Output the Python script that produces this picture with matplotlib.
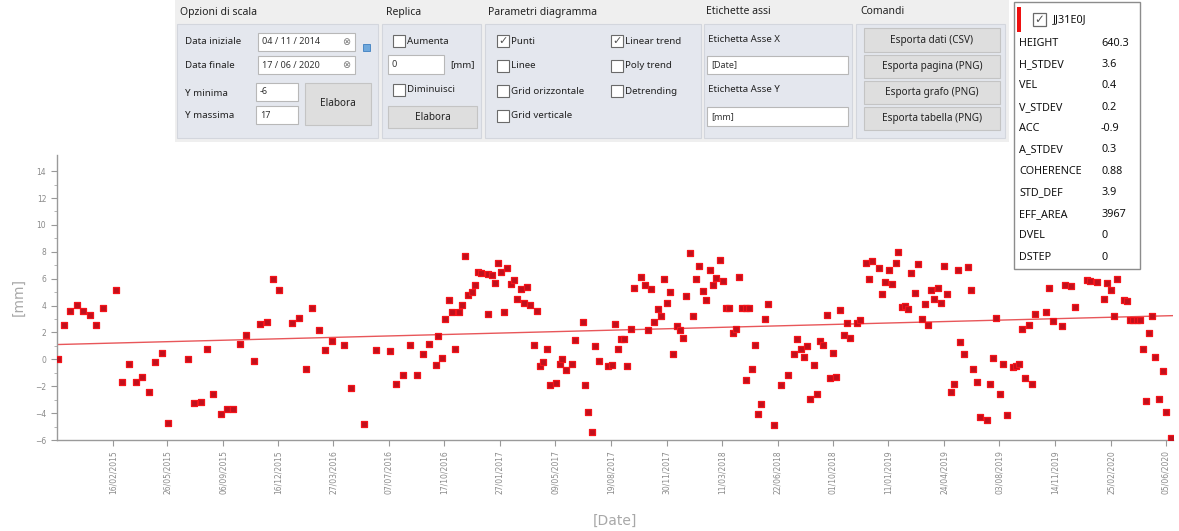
import matplotlib
matplotlib.use('Agg')
import matplotlib.pyplot as plt
import matplotlib.patches as patches
import numpy as np
import pandas as pd

# --- data ---
start_date = '2014-11-04'
end_date = '2020-06-17'

# acquisition day offset from start_date, displacement in mm
days = [3, 13, 24, 37, 49, 61, 73, 85, 109, 121, 133, 145, 157, 169, 181, 193, 205,
        241, 252, 265, 277, 288, 302, 314, 325, 337, 349, 362, 374, 386, 397, 409,
        433, 446, 458, 469, 482, 494, 506, 529, 541, 565, 588, 613, 624, 637, 650,
        662, 673, 685, 697, 702, 709, 715, 721, 727, 732, 739, 745, 751, 757, 763,
        769, 775, 781, 793, 794, 800, 806, 811, 817, 823, 829, 835, 841, 847, 853,
        859, 865, 870, 877, 883, 889, 895, 901, 907, 919, 926, 930, 937, 948, 954,
        967, 972, 978, 985, 990, 997, 1014, 1021, 1026, 1033, 1038, 1044, 1049,
        1057, 1062, 1074, 1081, 1087, 1093, 1099, 1105, 1111, 1116, 1122, 1128,
        1134, 1140, 1146, 1152, 1158, 1164, 1170, 1176, 1182, 1188, 1195, 1201,
        1207, 1213, 1219, 1225, 1231, 1237, 1243, 1249, 1255, 1261, 1267, 1268,
        1273, 1279, 1284, 1290, 1296, 1302, 1309, 1320, 1332, 1344, 1356, 1362,
        1368, 1374, 1380, 1386, 1393, 1398, 1404, 1409, 1416, 1422, 1428, 1434,
        1440, 1447, 1453, 1459, 1471, 1477, 1488, 1494, 1500, 1512, 1518, 1524,
        1531, 1537, 1543, 1548, 1554, 1560, 1566, 1572, 1578, 1584, 1591, 1597,
        1603, 1608, 1614, 1620, 1626, 1632, 1638, 1645, 1651, 1657, 1662, 1668,
        1675, 1681, 1686, 1692, 1698, 1710, 1716, 1722, 1728, 1735, 1741, 1747,
        1758, 1764, 1770, 1776, 1781, 1789, 1794, 1800, 1819, 1825, 1833, 1848,
        1854, 1866, 1873, 1895, 1901, 1914, 1926, 1932, 1938, 1944, 1950, 1963,
        1969, 1974, 1980, 1986, 1992, 1997, 2003, 2009, 2015, 2020, 2028, 2034,
        2040, 2049]
disp_mm = [0.0, 2.58, 3.59, 4.01, 3.59, 3.27, 2.58, 3.82, 5.13, -1.71, -0.32, -1.71,
           -1.31, -2.43, -0.22, 0.47, -4.73, 0.0, -3.25, -3.15, 0.79, -2.6, -4.04,
           -3.72, -3.72, 1.16, 1.78, -0.12, 2.6, 2.78, 6.0, 5.13, 2.7, 3.1, -0.72,
           3.82, 2.2, 0.67, 1.36, 1.09, -2.11, -4.78, 0.67, 0.59, -1.81, -1.19, 1.04,
           -1.19, 0.37, 1.16, -0.45, 1.71, 0.07, 2.97, 4.39, 3.52, 0.79, 3.52, 4.01,
           7.68, 4.81, 5.0, 5.5, 6.49, 6.44, 3.4, 6.37, 6.3, 5.68, 7.19, 6.49, 3.52,
           6.82, 5.63, 5.92, 4.51, 5.2, 4.19, 5.38, 4.01, 1.04, 3.59, -0.52, -0.2,
           0.79, -1.93, -1.73, -0.32, 0.02, -0.82, -0.32, 1.46, 2.8, -1.93, -3.92,
           -5.4, 0.97, -0.12, -0.52, -0.45, 2.6, 0.79, 1.49, 1.54, -0.52,
           2.28, 5.3, 6.12, 5.55, 2.2, 5.25, 2.78, 3.72, 3.2, 6.0, 4.21, 5.0,
           0.37, 2.45, 2.16, 1.59, 4.68, 7.91, 3.2, 6.0, 6.91, 5.08, 4.39, 6.67,
           5.5, 6.07, 7.41, 5.8, 3.82, 3.82, 1.98, 2.28, 6.12, 3.82, 3.82, -1.51,
           3.82, -0.69, 1.09, -4.09, -3.3, 2.97, 4.09, -4.91, -1.93, -1.14, 0.37, 1.49,
           0.79, 0.17, 0.97, -2.92, -0.4, -2.55, 1.34, 1.09, 3.27, -1.39, 0.5, -1.31,
           3.69, 1.83, 2.7, 1.59, 2.7, 2.9, 7.19, 6.0, 7.29, 6.82, 4.83, 5.75,
           6.62, 5.63, 7.16, 7.98, 3.89, 3.94, 3.72, 6.42, 4.93, 7.11, 2.97, 4.14,
           2.53, 5.18, 4.51, 5.3, 4.21, 6.91, 4.83, -2.43, -1.81, 6.67, 1.29, 0.37,
           6.86, 5.18, -0.69, -1.69, -4.29, -4.54, -1.81, 0.1, 3.07, -2.6, -0.32, -4.11,
           -0.57, -0.52, -0.37, 2.28, -1.36, 2.53, -1.86, 3.4, 3.52, 5.3, 2.83, 2.45,
           5.5, 5.43, 3.89, 5.92, 5.82, 5.75, 4.51, 5.68, 5.13, 3.2, 6.0, 4.39,
           4.34, 2.9, 2.95, 2.95, 2.9, 0.79, -3.12, 1.96, 3.2, 0.17, -2.92, -0.89,
           -3.92, -5.82]

# linear trend as shown: value at start_date and at end_date
trend_mm = [1.1, 3.25]

tick_dates = ['2015-02-16', '2015-05-26', '2015-09-06', '2015-12-16', '2016-03-27',
              '2016-07-07', '2016-10-17', '2017-01-27', '2017-05-09', '2017-08-19',
              '2017-11-30', '2018-03-11', '2018-06-22', '2018-10-01', '2019-01-11',
              '2019-04-24', '2019-08-03', '2019-11-14', '2020-02-25', '2020-06-05']

point_id = 'JJ31E0J'
attr_names = ['HEIGHT', 'H_STDEV', 'VEL', 'V_STDEV', 'ACC', 'A_STDEV', 'COHERENCE',
              'STD_DEF', 'EFF_AREA', 'DVEL', 'DSTEP']
attr_values = ['640.3', '3.6', '0.4', '0.2', '-0.9', '0.3', '0.88', '3.9', '3967', '0', '0']

W, H = 1179, 531
fig = plt.figure(figsize=(W / 100, H / 100), dpi=100)
fig.patch.set_facecolor('white')

# --- main time series ---
x0, x1, y_top, y_bot = 56.7, 1172.5, 155, 440
ax = fig.add_axes([x0 / W, 1 - y_bot / H, (x1 - x0) / W, (y_bot - y_top) / H])

dates = pd.to_datetime(start_date) + pd.to_timedelta(days, unit='D')
ax.scatter(dates, disp_mm, marker='s', s=19, facecolor='#c0101c', edgecolor='#f5141a',
           linewidth=0.9, zorder=3)

t0, t1 = pd.to_datetime(start_date), pd.to_datetime(end_date)
ax.plot([t0, t1], trend_mm, color='#e8575a', lw=1, zorder=2)

ax.set_xlim(t0, t1)
ax.set_ylim(-6, 15.2)
ax.set_yticks(np.arange(-6, 15, 2))
ax.set_yticks(np.arange(-6, 15, 1), minor=True)
ax.set_xticks(pd.to_datetime(tick_dates))
ax.set_xticklabels([pd.Timestamp(d).strftime('%d/%m/%Y') for d in tick_dates],
                   rotation=90)
ax.tick_params(axis='both', colors='#999999', labelcolor='#8a8a8a', labelsize=5.5,
               length=4, width=0.8)
ax.tick_params(axis='y', which='minor', length=2, colors='#aaaaaa')
for s in ['top', 'right']:
    ax.spines[s].set_visible(False)
for s in ['left', 'bottom']:
    ax.spines[s].set_color('#9a9a9a')
    ax.spines[s].set_linewidth(1)
ax.set_xlabel('[Date]', color='#a8a8a8', fontsize=10, labelpad=14)
ax.set_ylabel('[mm]', color='#a8a8a8', fontsize=10, labelpad=7)

# --- overlay for the control panel and info box (pixel coordinates) ---
ov = fig.add_axes([0, 0, 1, 1], zorder=5)
ov.set_xlim(0, W)
ov.set_ylim(H, 0)
ov.axis('off')
ov.patch.set_visible(False)

UI = 'Noto Sans'


def rect(xa, ya, xb, yb, fc, ec='none', lw=0.8):
    ov.add_patch(patches.Rectangle((xa, ya), xb - xa, yb - ya, facecolor=fc,
                                   edgecolor=ec, linewidth=lw))


def txt(x, y, s, size=7, **kw):
    kw.setdefault('color', '#222222')
    ov.text(x, y, s, fontsize=size, va='center', family=UI, **kw)


def field(xa, ya, xb, yb, s=''):
    rect(xa, ya, xb, yb, 'white', '#b8b8b8')
    if s:
        txt(xa + 4, (ya + yb) / 2, s, size=6.5, color='#333333')


def button(xa, ya, xb, yb, s):
    rect(xa, ya, xb, yb, '#dedede', '#c4c4c4')
    txt((xa + xb) / 2, (ya + yb) / 2, s, size=7.2, ha='center')


def checkbox(x, y, s, checked=False):
    rect(x, y - 6, x + 12, y + 6, 'white', '#6a6a6a', 0.8)
    if checked:
        ov.text(x + 6, y, '\u2713', fontsize=8, ha='center', va='center',
                color='#555555', family='DejaVu Sans')
    txt(x + 14, y, s)


rect(175, 0, 1009, 142, '#efefef')
headers = [(180, 'Opzioni di scala'), (386, 'Replica'), (488, 'Parametri diagramma'),
           (706, 'Etichette assi'), (860, 'Comandi')]
for hx, hs in headers:
    txt(hx, 12, hs, size=7.5, weight='bold')
for gx0, gx1 in [(177, 378), (382, 481), (485, 701), (704, 852), (856, 1005)]:
    rect(gx0, 24, gx1, 138, '#e4e7ee', '#d3d6dd')

# Opzioni di scala
txt(185, 42, 'Data iniziale')
field(258, 33, 355, 51, '04 / 11 / 2014')
ov.text(346, 42, '\u2297', fontsize=7, ha='center', va='center', color='#777777')
txt(185, 65, 'Data finale')
field(258, 56, 355, 74, '17 / 06 / 2020')
ov.text(346, 65, '\u2297', fontsize=7, ha='center', va='center', color='#777777')
rect(363, 44, 370, 51, '#6fa8dc', '#3d7fc1', 0.6)
txt(185, 93, 'Y minima')
field(256, 83, 298, 101, '-6')
txt(185, 116, 'Y massima')
field(256, 106, 298, 124, '17')
button(305, 83, 371, 125, 'Elabora')

# Replica
checkbox(393, 41, 'Aumenta')
field(388, 55, 444, 74, '0')
txt(450, 65, '[mm]')
checkbox(393, 90, 'Diminuisci')
button(388, 106, 477, 128, 'Elabora')

# Parametri diagramma
checkbox(497, 41, 'Punti', True)
checkbox(497, 66, 'Linee')
checkbox(497, 91, 'Grid orizzontale')
checkbox(497, 116, 'Grid verticale')
checkbox(611, 41, 'Linear trend', True)
checkbox(611, 66, 'Poly trend')
checkbox(611, 91, 'Detrending')

# Etichette assi
txt(708, 40, 'Etichetta Asse X')
field(707, 56, 848, 74, '[Date]')
txt(708, 90, 'Etichetta Asse Y')
field(707, 107, 848, 126, '[mm]')

# Comandi
button(864, 28, 1000, 52, 'Esporta dati (CSV)')
button(864, 55, 1000, 78, 'Esporta pagina (PNG)')
button(864, 81, 1000, 104, 'Esporta grafo (PNG)')
button(864, 107, 1000, 130, 'Esporta tabella (PNG)')

# info box of the selected point
rect(1014, 2, 1140, 269, 'white', '#8c8c8c', 1)
rect(1017, 7, 1021, 32, '#ee1111')
rect(1033, 13, 1046, 26, 'white', '#6a6a6a', 0.9)
ov.text(1039.5, 19.5, '\u2713', fontsize=8.5, ha='center', va='center', color='#555555',
        family='DejaVu Sans')
txt(1053, 20, point_id, size=7.8, color='#111111')
for i, (name, val) in enumerate(zip(attr_names, attr_values)):
    yy = 43 + i * 21.4
    txt(1019, yy, name, size=7.8, color='#111111')
    txt(1101, yy, val, size=7.8, color='#111111')

fig.savefig('out.png', dpi=100)
